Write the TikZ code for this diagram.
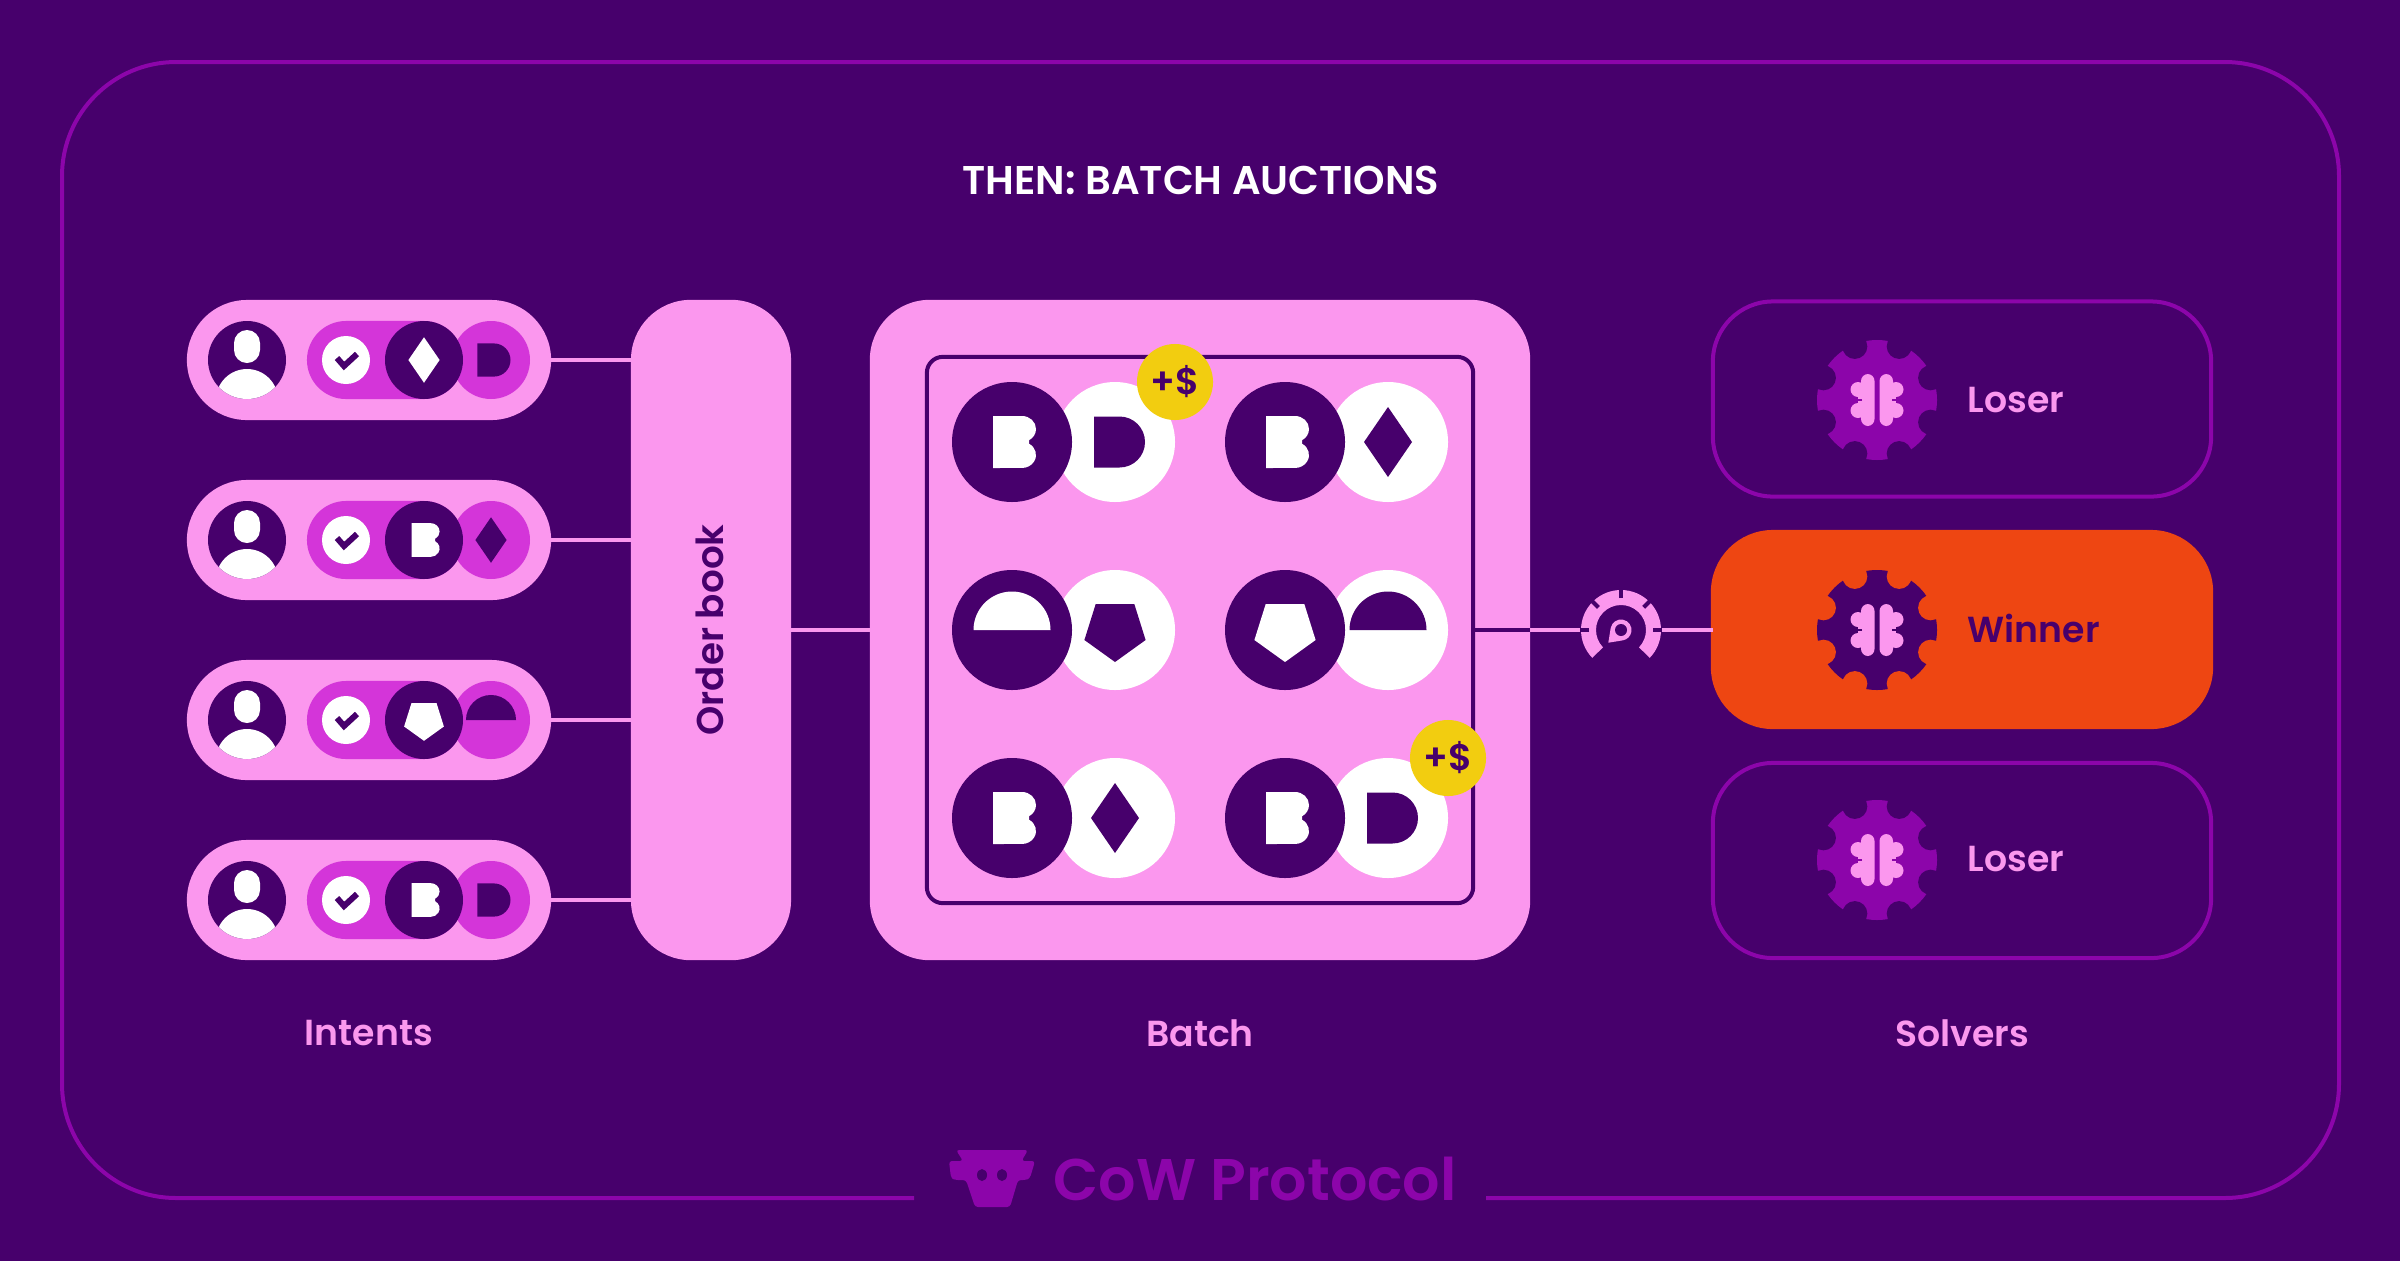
\documentclass[tikz,border=0pt]{standalone}
\usepackage{fontspec}
\setmainfont{Poppins}[BoldFont={Poppins SemiBold}]
\usetikzlibrary{positioning, calc}
\definecolor{fondviolet}{RGB}{71, 0, 108}
\definecolor{traitviolet}{RGB}{140, 5, 170}
\definecolor{rosedoux}{RGB}{251, 151, 238}
\definecolor{magentavif}{RGB}{212, 53, 217}
\definecolor{orangevif}{RGB}{238, 70, 18}
\definecolor{jaunevif}{RGB}{242, 205, 16}
\tikzset{
  pillbox/.style={fill=rosedoux, minimum width=3.64cm, minimum height=1.2cm, rounded corners=.6cm, inner sep=0pt, outer sep=0pt},
  togglebox/.style={fill=magentavif, minimum width=1.56cm, minimum height=.78cm, rounded corners=.39cm, inner sep=0pt},
  solverbox/.style={minimum width=4.98cm, minimum height=1.95cm, rounded corners=.6cm, inner sep=0pt, outer sep=0pt, draw=traitviolet, line width=.04cm},
  badgebox/.style={circle, fill=jaunevif, minimum size=.76cm, inner sep=0pt, text=fondviolet, font=\bfseries\fontsize{10.5}{11}\selectfont},
  link/.style={draw=rosedoux, line width=.04cm},
  titre/.style={text=rosedoux, font=\bfseries\fontsize{10.3}{12}\selectfont},
  tokenb/.pic={\path[pic actions] (-19,-26) -- (10,-26) arc[start angle=-90, end angle=60, x radius=14, y radius=13] -- (17,1.7) arc[start angle=-60, end angle=90, x radius=14, y radius=13] -- (-19,26) -- cycle;},
  tokend/.pic={\path[pic actions] (-21,-25.5) -- (4.5,-25.5) arc (-90:90:25.5) -- (-21,25.5) -- cycle;},
  tokendiamond/.pic={\path[pic actions] (0,-35) -- (24,0) -- (0,35) -- (-24,0) -- cycle;},
  tokenpenta/.pic={\path[pic actions] (-19.3,-26) -- (19.3,-26) -- (30.6,10) -- (0,32) -- (-30.6,10) -- cycle;},
  tokendome/.pic={\path[pic actions] (-38.5,0) arc (180:360:38.5) -- cycle;},
}
% engrenage avec cerveau
\newcommand{\gearicon}[4]{
  \begin{scope}[shift={(#1)}]
    \fill[#2] (0,0) circle[radius=60];
    \foreach \a in {22.5,67.5,...,337.5} \fill[#3] (\a:58) circle[radius=12.5];
    \foreach \s in {1,-1} {
      \begin{scope}[xscale=\s]
        \fill[#4, rounded corners=.07cm] (2.5,-26) rectangle (16,26);
        \fill[#4] (19,-10.5) circle[radius=7.5] (19,10.5) circle[radius=7.5];
        \fill[#4] (10,-12) rectangle (19,12);
        \draw[#2, line width=.025cm] (15,0) -- (28,0);
      \end{scope}
    }
  \end{scope}
}
\begin{document}
\begin{tikzpicture}[x=.01cm, y=-.01cm]
    \useasboundingbox (0,0) rectangle (2400,1260);
    \fill[fondviolet] (-5,-5) rectangle (2405,1265);
    % cadre et titre
    \draw[traitviolet, line width=.04cm, rounded corners=1.14cm] (914,1198) -- (62,1198) -- (62,62) -- (2339,62) -- (2339,1198) -- (1486,1198);
    \node[text=white, font=\bfseries\fontsize{11.4}{12}\selectfont] (title) at (1201,180) {THEN: BATCH AUCTIONS};
    % carnet d'ordres
    \node[fill=rosedoux, minimum width=1.6cm, minimum height=6.6cm, rounded corners=.6cm, inner sep=0pt, outer sep=0pt] (orderbook) at (711,630) {};
    \node[rotate=90, text=fondviolet, font=\bfseries\fontsize{10.6}{12}\selectfont] (orderlabel) at (710,630) {Order book};
    % intentions
    \foreach \i/\y/\fa/\fb in {1/360/tokendiamond/tokend, 2/540/tokenb/tokendiamond, 3/720/tokenpenta/tokendome, 4/900/tokenb/tokend} {
      \node[pillbox] (intent\i) at (369,\y) {};
      \draw[link] (intent\i.east) -- (intent\i.east -| orderbook.west);
      \begin{scope}[shift={(247,\y)}]
        \fill[fondviolet] (0,0) circle[radius=39];
        \begin{scope}
          \clip (0,0) circle[radius=39];
          \fill[white] (0,40) circle[radius=31];
        \end{scope}
        \fill[white, rounded corners=.13cm] (-13,-30) rectangle (13,3);
      \end{scope}
      \node[togglebox] (toggle\i) at (385,\y) {};
      \fill[magentavif] (491,\y) circle[radius=39];
      \fill[fondviolet] (424,\y) circle[radius=39];
      \fill[white] (346,\y) circle[radius=24];
      \draw[fondviolet, line width=.06cm] ($(346,\y)+(-9,-2)$) -- ($(346,\y)+(-2,6)$) -- ($(346,\y)+(11,-6)$);
      \pic[scale=.65, fill=white] at (424,\y) {\fa};
      \pic[scale=.65, fill=fondviolet] at (491,\y) {\fb};
    }
    % lot
    \node[fill=rosedoux, minimum width=6.6cm, minimum height=6.6cm, rounded corners=.6cm, inner sep=0pt, outer sep=0pt] (batch) at (1200,630) {};
    \node[draw=fondviolet, line width=.04cm, minimum width=5.46cm, minimum height=5.46cm, rounded corners=.16cm, inner sep=0pt, outer sep=0pt] (inner) at (1200,630) {};
    \draw[link] (orderbook.east |- batch.west) -- (batch.west);
    \draw[fondviolet, line width=.04cm] (inner.east) -- (batch.east);
    \foreach \x/\y/\fa/\fb in {1012/442/tokenb/tokend, 1285/442/tokenb/tokendiamond, 1012/630/tokendome/tokenpenta, 1285/630/tokenpenta/tokendome, 1012/818/tokenb/tokendiamond, 1285/818/tokenb/tokend} {
      \fill[white] (\x+103,\y) circle[radius=60];
      \fill[fondviolet] (\x,\y) circle[radius=60];
      \pic[fill=white] at (\x,\y) {\fa};
      \pic[fill=fondviolet] at (\x+103,\y) {\fb};
    }
    \node[badgebox] (badgeone) at (1175,382) {+\$};
    \node[badgebox] (badgetwo) at (1448,758) {+\$};
    % solveurs
    \node[solverbox] (loserone) at (1962,399) {};
    \node[solverbox, fill=orangevif, draw=orangevif] (winner) at (1962,629.5) {};
    \node[solverbox] (losertwo) at (1962,860.5) {};
    \gearicon{1877,400}{traitviolet}{fondviolet}{rosedoux}
    \gearicon{1877,630}{fondviolet}{orangevif}{rosedoux}
    \gearicon{1877,860}{traitviolet}{fondviolet}{rosedoux}
    \node[titre, anchor=west, inner sep=0pt] (loseronelabel) at (1967,400) {Loser};
    \node[titre, anchor=west, inner sep=0pt, text=fondviolet] (winnerlabel) at (1967,628) {Winner};
    \node[titre, anchor=west, inner sep=0pt] (losertwolabel) at (1967,859) {Loser};
    % jauge
    \node[circle, minimum size=.8cm, inner sep=0pt, outer sep=0pt] (gauge) at (1621,630) {};
    \draw[link] (batch.east) -- (gauge.west);
    \draw[link] (gauge.east) -- (gauge.east -| winner.west);
    \begin{scope}[shift={(1621,630)}]
      \fill[rosedoux] (136:40) arc (136:404:40) -- (44:25) arc (404:136:25) -- cycle;
      \foreach \a in {0,-45,-90,-135,180} \draw[fondviolet, line width=.04cm] (\a:32) -- (\a:41);
      \fill[rosedoux] (-12.7,12.7) -- (191:10.5) arc (191:439:10.5) -- cycle;
      \fill[fondviolet] (0,0) circle[radius=6];
    \end{scope}
    % legendes
    \node[titre] (intentslabel) at (369,1033) {Intents};
    \node[titre] (batchlabel) at (1200,1033) {Batch};
    \node[titre] (solverslabel) at (1962,1033) {Solvers};
    % logo
    \fill[traitviolet, rounded corners=.03cm] (956,1150) -- (1028,1150) -- (1021.5,1161) -- (1035,1161) -- (1030,1178) -- (1026,1180) -- (1018,1180) -- (1010,1207) -- (975,1207) -- (966,1180) -- (955,1180) -- (951,1178) -- (949,1161) -- (963,1161) -- cycle;
    \fill[fondviolet] (982,1175) ellipse[x radius=5, y radius=6] (1002,1175) ellipse[x radius=5, y radius=6];
    \node[text=traitviolet, anchor=base west, inner sep=0pt, font=\bfseries\fontsize{16.7}{20}\selectfont] (logotext) at (1053,1200) {CoW Protocol};
\end{tikzpicture}
\end{document}
